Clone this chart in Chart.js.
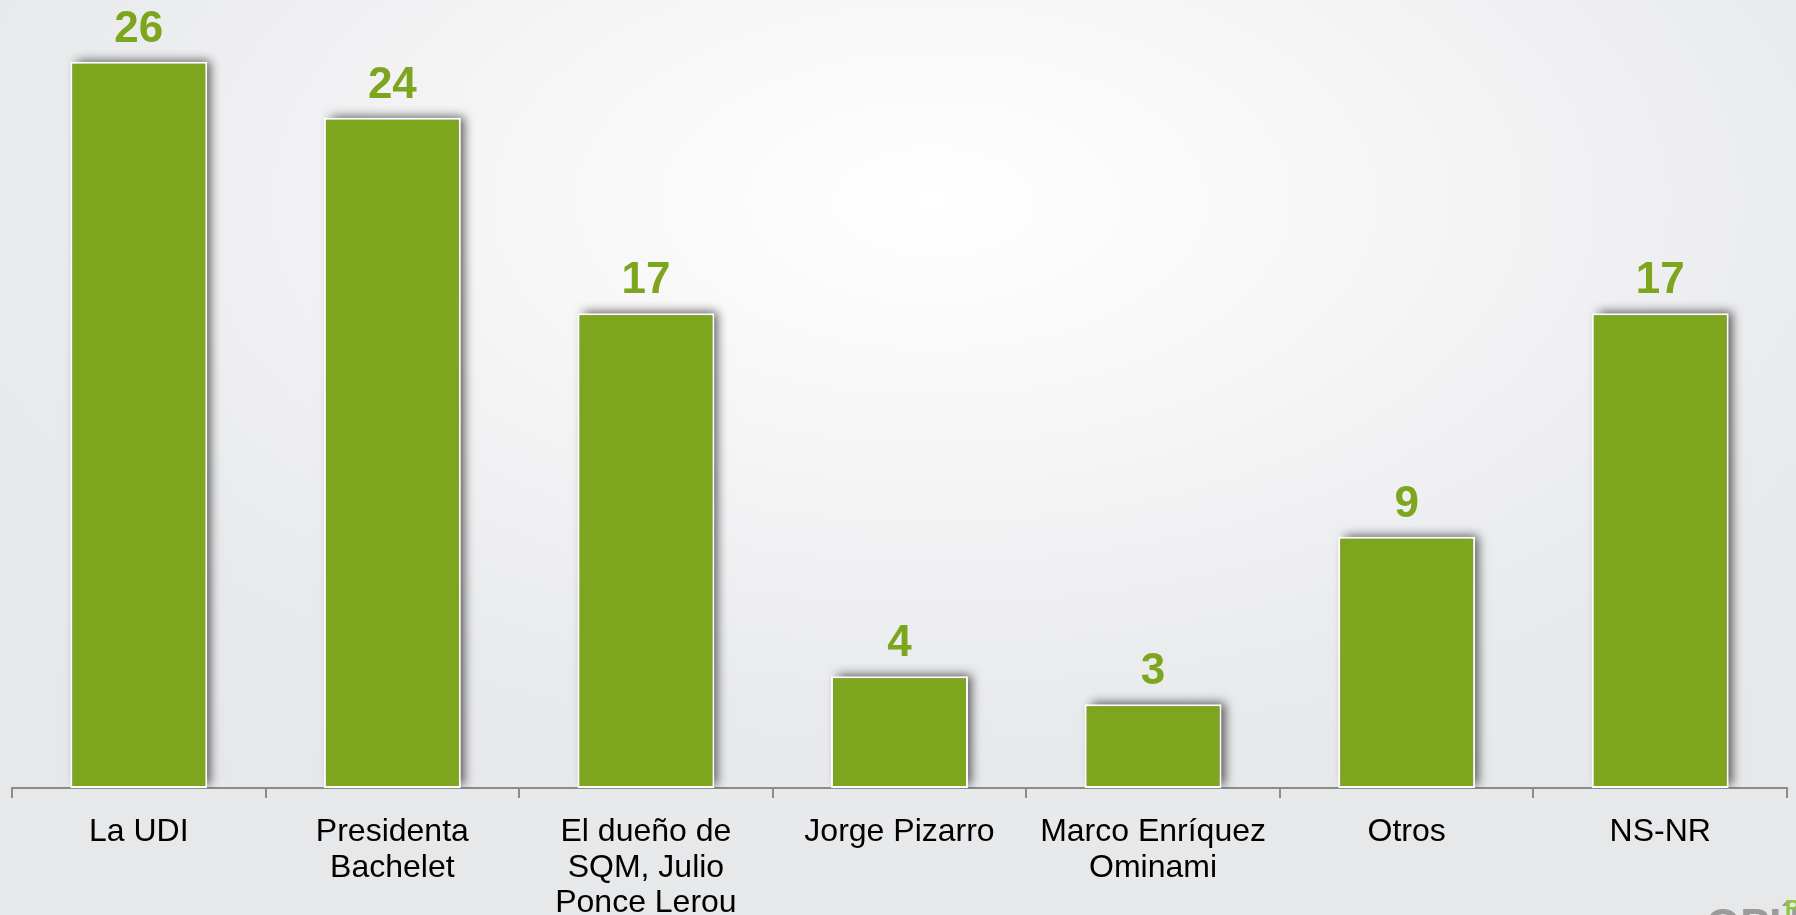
<!DOCTYPE html>
<html>
<head>
<meta charset="utf-8">
<script src="https://cdn.jsdelivr.net/npm/chart.js@4/dist/chart.umd.min.js"></script>
<style>
  html, body { margin: 0; padding: 0; }
  body {
    width: 1796px; height: 915px; overflow: hidden;
    background: radial-gradient(ellipse 70% 75% at 52% 22%, #ffffff 0%, #f6f6f7 35%, #e9eaec 75%, #e7e8ea 100%);
  }
  #wrap { position: relative; width: 1796px; height: 915px; }
  canvas { display: block; }
</style>
</head>
<body>
<div id="wrap"><canvas id="opinionChart" width="1796" height="915"></canvas></div>
<script>
// Datos
const categorias = [
  'La UDI',
  ['Presidenta', 'Bachelet'],
  ['El dueño de', 'SQM, Julio', 'Ponce Lerou'],
  'Jorge Pizarro',
  ['Marco Enríquez', 'Ominami'],
  'Otros',
  'NS-NR'
];
const valores = [26, 24, 17, 4, 3, 9, 17];

const verde = '#7da61e';

// sombra detras de cada barra
const sombraBarras = {
  id: 'sombraBarras',
  beforeDatasetsDraw(chart) {
    const ctx = chart.ctx;
    const meta = chart.getDatasetMeta(0);
    ctx.save();
    ctx.beginPath();
    ctx.rect(chart.chartArea.left, 0, chart.chartArea.right - chart.chartArea.left, chart.chartArea.bottom);
    ctx.clip();
    ctx.shadowColor = 'rgba(0,0,0,0.65)';
    ctx.shadowBlur = 10;
    ctx.shadowOffsetX = 5;
    ctx.shadowOffsetY = -3;
    ctx.fillStyle = '#909090';
    meta.data.forEach(bar => {
      const p = bar.getProps(['x', 'y', 'base', 'width'], true);
      ctx.fillRect(p.x - p.width / 2 + 2, p.y + 2, p.width - 4, p.base - p.y - 2);
    });
    ctx.restore();
  }
};

// etiquetas de valor encima de las barras
const etiquetasValor = {
  id: 'etiquetasValor',
  afterDatasetsDraw(chart) {
    const ctx = chart.ctx;
    const meta = chart.getDatasetMeta(0);
    ctx.save();
    ctx.font = 'bold 44px "Liberation Sans", Arial, sans-serif';
    ctx.fillStyle = verde;
    ctx.textAlign = 'center';
    ctx.textBaseline = 'alphabetic';
    meta.data.forEach((bar, i) => {
      ctx.fillText(String(valores[i]), bar.x, bar.y - 20);
    });
    ctx.restore();
  }
};

// logo cortado abajo a la derecha
const logo = {
  id: 'logo',
  afterDraw(chart) {
    const ctx = chart.ctx;
    ctx.save();
    ctx.font = 'bold 44px "Liberation Sans", Arial, sans-serif';
    ctx.fillStyle = '#9b9b9b';
    ctx.textAlign = 'left';
    ctx.textBaseline = 'alphabetic';
    ctx.fillText('OPÚbli', 1706, 940);
    ctx.font = 'bold 22px "Liberation Sans", Arial, sans-serif';
    ctx.fillStyle = '#8cc63f';
    ctx.fillText('P', 1785, 915);
    ctx.restore();
  }
};

new Chart(document.getElementById('opinionChart'), {
  type: 'bar',
  data: {
    labels: categorias,
    datasets: [{
      data: valores,
      backgroundColor: verde,
      borderColor: '#ffffff',
      borderWidth: 2,
      borderSkipped: false,
      barPercentage: 0.54,
      categoryPercentage: 1.0
    }]
  },
  options: {
    responsive: false,
    animation: false,
    devicePixelRatio: 1,
    layout: { padding: { top: 6, left: 12, right: 9, bottom: 0 } },
    plugins: {
      legend: { display: false },
      tooltip: { enabled: false }
    },
    scales: {
      x: {
        offset: true,
        afterFit(scale) { scale.height = 127; },
        border: { display: true, color: '#8c8c8c', width: 2 },
        grid: {
          display: true,
          offset: true,
          drawOnChartArea: false,
          drawTicks: true,
          tickLength: 10,
          color: '#8c8c8c',
          lineWidth: 2
        },
        ticks: {
          color: '#000000',
          padding: 17,
          maxRotation: 0,
          autoSkip: false,
          font: { family: '"Liberation Sans", Arial, sans-serif', size: 32, lineHeight: 1.1 }
        }
      },
      y: {
        display: false,
        min: 0,
        max: 28
      }
    }
  },
  plugins: [sombraBarras, etiquetasValor, logo]
});
</script>
</body>
</html>
